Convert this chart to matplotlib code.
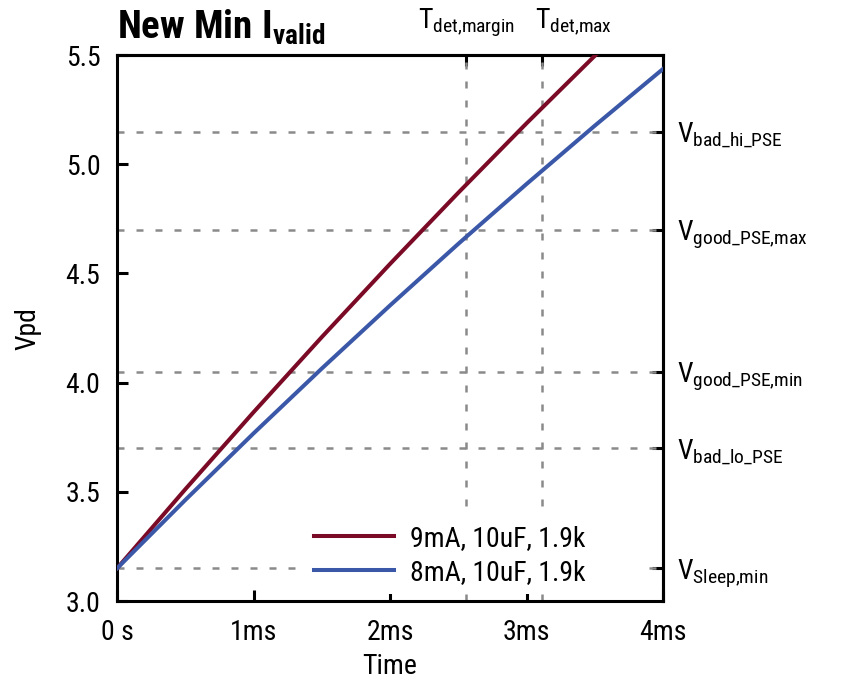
import matplotlib
matplotlib.use("Agg")
import matplotlib.pyplot as plt
from matplotlib.ticker import FormatStrFormatter

# Condensed sans for everything, math text included
FONT = "Roboto Condensed"
plt.rcParams["font.family"] = [FONT, "DejaVu Sans"]
plt.rcParams["mathtext.fontset"] = "custom"
plt.rcParams["mathtext.rm"] = FONT
plt.rcParams["mathtext.bf"] = FONT + ":bold"
plt.rcParams["mathtext.it"] = FONT + ":italic"

# ── data ────────────────────────────────────────────────────────────────────
time_ms = [0.0, 0.5, 1.0, 1.5, 2.0, 2.5, 3.0, 3.5, 4.0]
vpd_9ma = [3.150, 3.512, 3.865, 4.209, 4.544, 4.870, 5.188, 5.497, 5.798]
vpd_8ma = [3.150, 3.463, 3.768, 4.065, 4.354, 4.636, 4.910, 5.177, 5.437]
series_labels = ["9mA, 10uF, 1.9k", "8mA, 10uF, 1.9k"]

# voltage thresholds (right axis) and detection times (top axis)
v_levels = [5.15, 4.70, 4.05, 3.70, 3.15]
v_names = [r"$\mathrm{V_{bad\_hi\_PSE}}$", r"$\mathrm{V_{good\_PSE{,}max}}$",
           r"$\mathrm{V_{good\_PSE{,}min}}$", r"$\mathrm{V_{bad\_lo\_PSE}}$",
           r"$\mathrm{V_{Sleep{,}min}}$"]
t_marks = [2.557, 3.11]
t_names = [r"$\mathrm{T_{det{,}margin}}$", r"$\mathrm{T_{det{,}max}}$"]

x_ticks = [0, 1, 2, 3, 4]
x_ticklabels = ["0 s", "1ms", "2ms", "3ms", "4ms"]
y_ticks = [3.0, 3.5, 4.0, 4.5, 5.0, 5.5]

RED = "#7a0a26"
BLUE = "#3b58a8"
GRID = "#8a8a8a"
FS = 20
SPINE = 2.2
DASH = (0, (2.8, 4.8))

fig = plt.figure(figsize=(8.48, 6.80), dpi=100)
ax = fig.add_axes([0.138, 0.116, 0.644, 0.803])

for v in v_levels:
    ax.axhline(v, color=GRID, lw=1.8, ls=DASH, zorder=1)
for t in t_marks:
    ax.axvline(t, color=GRID, lw=1.8, ls=DASH, zorder=1)

ax.plot(time_ms, vpd_9ma, color=RED, lw=2.9, label=series_labels[0], zorder=3)
ax.plot(time_ms, vpd_8ma, color=BLUE, lw=2.9, label=series_labels[1], zorder=3)

ax.set_xlim(0, 4)
ax.set_ylim(3.0, 5.5)
ax.set_xticks(x_ticks)
ax.set_xticklabels(x_ticklabels)
ax.set_yticks(y_ticks)
ax.yaxis.set_major_formatter(FormatStrFormatter("%.1f"))
ax.tick_params(axis="y", direction="in", length=8, width=SPINE, labelsize=FS, pad=12)
ax.tick_params(axis="x", direction="in", length=8, width=SPINE, labelsize=FS, pad=13)

for s in ax.spines.values():
    s.set_linewidth(SPINE)

ax.set_xlabel("Time", fontsize=FS, labelpad=5)
ax.set_ylabel("Vpd", fontsize=FS, labelpad=17)

# threshold labels on the right
ax_r = ax.secondary_yaxis("right")
ax_r.set_yticks(v_levels)
ax_r.set_yticklabels(v_names)
ax_r.tick_params(direction="in", length=8, width=SPINE, labelsize=FS, pad=10)
ax_r.spines["right"].set_linewidth(SPINE)

# detection time markers on top
ax_t = ax.secondary_xaxis("top")
ax_t.set_xticks(t_marks)
ax_t.set_xticklabels([])
ax_t.tick_params(direction="in", length=8, width=SPINE)
ax_t.spines["top"].set_linewidth(SPINE)
xt = ax.get_xaxis_transform()
ax.text(t_marks[0], 1.049, t_names[0], transform=xt,
        ha="center", va="baseline", fontsize=FS)
ax.text(t_marks[1] - 0.05, 1.049, t_names[1], transform=xt,
        ha="left", va="baseline", fontsize=FS)

leg = ax.legend(loc="lower left", bbox_to_anchor=(0.345, 0.013, 0.625, 0.14),
                mode="expand", borderaxespad=0, fontsize=FS,
                handlelength=2.9, handletextpad=0.55, labelspacing=0.25,
                frameon=True, fancybox=False, framealpha=1.0,
                edgecolor="none", facecolor="white", borderpad=0.3)
leg.set_zorder(4)

fig.text(0.138, 0.943, r"$\mathbf{New\ Min\ I_{valid}}$", fontsize=28,
         ha="left", va="baseline")

fig.savefig("out.png", dpi=100)
